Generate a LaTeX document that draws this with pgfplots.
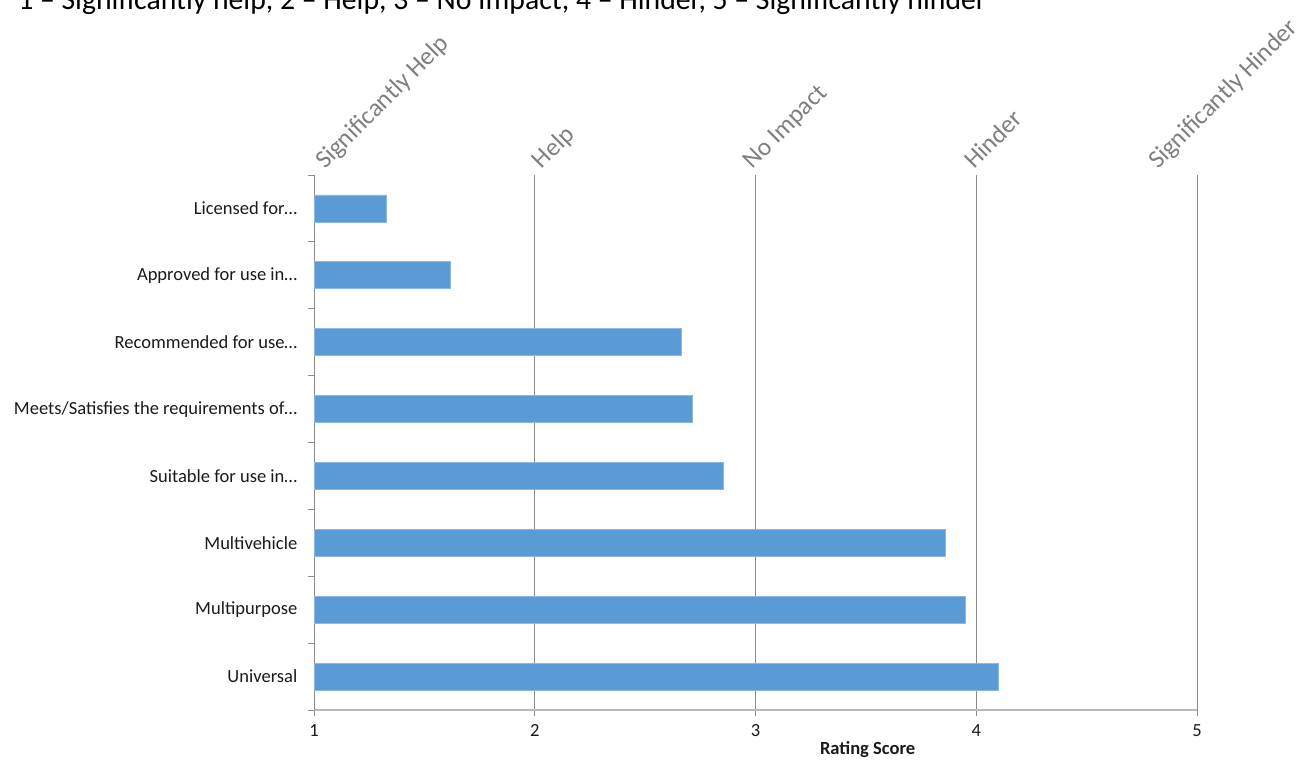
\documentclass[border=0pt]{standalone}
\usepackage{pgfplots}
\pgfplotsset{compat=1.18}
\usepackage{fontspec}
\setmainfont{Carlito}
\usetikzlibrary{calc}
\definecolor{barblue}{HTML}{5B9BD5}
\definecolor{baredge}{HTML}{8DB7E2}
\definecolor{gridgray}{HTML}{8C8C8C}
\definecolor{labgray}{HTML}{7F7F7F}
\definecolor{txt}{HTML}{1A1A1A}
\begin{document}
\begin{tikzpicture}
\useasboundingbox (0,0) rectangle (979.5pt,-570.75pt);
\node[anchor=base west, font=\fontsize{22.3}{26}\selectfont, inner sep=0pt] at (13.5pt,-7pt)
  {1 – Significantly help, 2 – Help, 3 – No Impact, 4 – Hinder, 5 – Significantly hinder};
\begin{axis}[
  at={(235.5pt,-532.5pt)}, anchor=south west,
  scale only axis, width=662.25pt, height=401.25pt,
  xmin=1, xmax=5, ymin=-0.5, ymax=7.5,
  xbar, bar width=20.25pt,
  axis x line*=bottom, axis y line*=left,
  x axis line style={draw=gray!55, line width=1.1pt, -},
  y axis line style={draw=gridgray, line width=0.75pt, -},
  xtick={1,2,3,4,5},
  xmajorgrids, grid style={draw=gridgray, line width=0.75pt},
  tick align=outside, major tick length=4.5pt, minor tick length=4.5pt,
  xtick style={draw=gridgray, line width=0.75pt},
  ytick={0,1,2,3,4,5,6,7},
  yticklabels={{Universal}, {Multipurpose}, {Multivehicle}, {Suitable for use in…}, {Meets/Satisfies the requirements of…}, {Recommended for use…}, {Approved for use in…}, {Licensed for…}},
  minor ytick={-0.5,0.5,1.5,2.5,3.5,4.5,5.5,6.5,7.5},
  major y tick style={draw=none},
  minor y tick style={draw=gridgray, line width=0.75pt},
  tick label style={font=\fontsize{13.9}{16}\selectfont, text=txt},
  yticklabel style={anchor=east, xshift=-4.5pt},
  xticklabel style={yshift=-3pt},
  /pgf/number format/assume math mode=true,
  xlabel={\textbf{Rating Score}},
  xlabel style={font=\fontsize{13.9}{16}\selectfont, text=txt, at={(axis description cs:0.627,0)}, anchor=base, yshift=-33pt},
  clip=false,
]
\addplot[fill=barblue, draw=baredge, line width=0.6pt] coordinates {
  (4.10,0) (3.95,1) (3.86,2) (2.855,3) (2.715,4) (2.665,5) (1.62,6) (1.33,7)
};
\tikzset{toplab/.style={rotate=45, anchor=base west, inner sep=0pt, text=labgray, font=\fontsize{19}{22}\selectfont}}
\node[toplab] at ($(axis cs:1,7.5)+(8.25pt,3.75pt)$) {Significantly Help};
\node[toplab] at ($(axis cs:2,7.5)+(5.25pt,3.75pt)$) {Help};
\node[toplab] at ($(axis cs:3,7.5)+(-2.25pt,3.75pt)$) {No Impact};
\node[toplab] at ($(axis cs:4,7.5)+(-1.5pt,3.75pt)$) {Hinder};
\node[toplab] at ($(axis cs:5,7.5)+(-29.25pt,3.75pt)$) {Significantly Hinder};
\end{axis}
\end{tikzpicture}
\end{document}
